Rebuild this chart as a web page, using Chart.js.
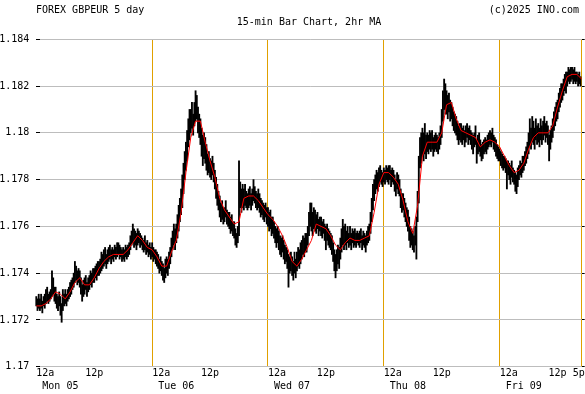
<!DOCTYPE html>
<html>
<head>
<meta charset="utf-8">
<script src="https://cdn.jsdelivr.net/npm/chart.js@4.4.1/dist/chart.umd.min.js"></script>
<style>
  html, body { margin: 0; padding: 0; background: #fff; }
  canvas { display: block; }
</style>
</head>
<body>
<canvas id="chart" width="585" height="394"></canvas>
<script>
// 15-min bars, Mon 00:00 .. Fri 16:45 (4 bars per hour)
const monLow = [
  1.1726,1.1724,1.1725,1.1724, 1.1725,1.1723,1.1726,1.1725,
  1.1727,1.1728,1.1727,1.1728, 1.1729,1.1730,1.1731,1.1728,
  1.1727,1.1725,1.1724,1.1726, 1.1722,1.1719,1.1724,1.1726,
  1.1727,1.1726,1.1728,1.1729, 1.1730,1.1731,1.1733,1.1734,
  1.1736,1.1737,1.1735,1.1736, 1.1734,1.1731,1.1728,1.1730,
  1.1731,1.1733,1.1730,1.1732, 1.1733,1.1735,1.1734,1.1736,
  1.1736,1.1738,1.1737,1.1739, 1.1739,1.1740,1.1741,1.1742,
  1.1743,1.1744,1.1742,1.1744, 1.1745,1.1746,1.1744,1.1746,
  1.1745,1.1747,1.1746,1.1747, 1.1748,1.1746,1.1747,1.1745,
  1.1746,1.1745,1.1747,1.1746, 1.1747,1.1748,1.1750,1.1752,
  1.1753,1.1751,1.1752,1.1750, 1.1752,1.1753,1.1751,1.1752,
  1.1750,1.1749,1.1750,1.1748, 1.1749,1.1747,1.1748,1.1746
];
const monHigh = [
  1.1730,1.1729,1.1731,1.1729, 1.1731,1.1728,1.1730,1.1731,
  1.1733,1.1734,1.1731,1.1732, 1.1733,1.1741,1.1738,1.1734,
  1.1734,1.1731,1.1730,1.1732, 1.1730,1.1727,1.1733,1.1731,
  1.1733,1.1731,1.1733,1.1734, 1.1736,1.1737,1.1738,1.1740,
  1.1745,1.1743,1.1741,1.1742, 1.1741,1.1738,1.1735,1.1737,
  1.1738,1.1739,1.1736,1.1738, 1.1739,1.1741,1.1740,1.1742,
  1.1742,1.1743,1.1744,1.1745, 1.1745,1.1746,1.1749,1.1748,
  1.1750,1.1751,1.1748,1.1750, 1.1751,1.1752,1.1750,1.1751,
  1.1750,1.1752,1.1751,1.1753, 1.1753,1.1752,1.1751,1.1750,
  1.1751,1.1750,1.1752,1.1751, 1.1752,1.1753,1.1756,1.1758,
  1.1761,1.1759,1.1758,1.1757, 1.1759,1.1758,1.1757,1.1756,
  1.1755,1.1754,1.1756,1.1753, 1.1754,1.1752,1.1753,1.1751
];
const tueLow = [
  1.1747,1.1745,1.1746,1.1744, 1.1743,1.1742,1.1740,1.1741,
  1.1739,1.1737,1.1736,1.1738, 1.1740,1.1739,1.1742,1.1744,
  1.1747,1.1750,1.1752,1.1750, 1.1753,1.1755,1.1758,1.1762,
  1.1765,1.1768,1.1774,1.1780, 1.1784,1.1788,1.1794,1.1797,
  1.1800,1.1802,1.1799,1.1803, 1.1805,1.1806,1.1800,1.1798,
  1.1795,1.1790,1.1786,1.1789, 1.1787,1.1784,1.1782,1.1783,
  1.1781,1.1780,1.1782,1.1779, 1.1776,1.1772,1.1769,1.1767,
  1.1764,1.1762,1.1763,1.1761, 1.1762,1.1764,1.1761,1.1760,
  1.1759,1.1757,1.1758,1.1756, 1.1755,1.1752,1.1751,1.1753,
  1.1756,1.1768,1.1766,1.1768, 1.1767,1.1769,1.1768,1.1767,
  1.1768,1.1769,1.1767,1.1769, 1.1771,1.1770,1.1768,1.1767,
  1.1768,1.1766,1.1764,1.1765, 1.1763,1.1762,1.1764,1.1761
];
const tueHigh = [
  1.1753,1.1751,1.1750,1.1750, 1.1749,1.1748,1.1746,1.1747,
  1.1745,1.1744,1.1742,1.1746, 1.1747,1.1746,1.1749,1.1751,
  1.1755,1.1758,1.1761,1.1759, 1.1761,1.1765,1.1769,1.1772,
  1.1776,1.1782,1.1787,1.1792, 1.1796,1.1801,1.1806,1.1810,
  1.1810,1.1813,1.1808,1.1813, 1.1818,1.1816,1.1811,1.1808,
  1.1806,1.1802,1.1799,1.1800, 1.1798,1.1795,1.1791,1.1792,
  1.1789,1.1788,1.1790,1.1787, 1.1784,1.1781,1.1778,1.1775,
  1.1773,1.1770,1.1771,1.1768, 1.1768,1.1771,1.1767,1.1766,
  1.1766,1.1764,1.1765,1.1762, 1.1762,1.1759,1.1757,1.1760,
  1.1788,1.1779,1.1776,1.1778, 1.1776,1.1778,1.1775,1.1774,
  1.1776,1.1777,1.1774,1.1776, 1.1780,1.1777,1.1775,1.1774,
  1.1776,1.1774,1.1772,1.1771, 1.1770,1.1769,1.1770,1.1768
];
const wedLow = [
  1.1760,1.1758,1.1759,1.1756, 1.1757,1.1755,1.1753,1.1751,
  1.1753,1.1750,1.1748,1.1747, 1.1749,1.1746,1.1744,1.1745,
  1.1742,1.1734,1.1740,1.1741, 1.1739,1.1737,1.1740,1.1738,
  1.1741,1.1743,1.1742,1.1744, 1.1746,1.1748,1.1747,1.1749,
  1.1749,1.1752,1.1756,1.1760, 1.1758,1.1756,1.1759,1.1758,
  1.1757,1.1759,1.1756,1.1758, 1.1756,1.1755,1.1757,1.1754,
  1.1750,1.1754,1.1752,1.1751, 1.1750,1.1748,1.1745,1.1741,
  1.1738,1.1741,1.1744,1.1742, 1.1746,1.1749,1.1752,1.1750,
  1.1752,1.1750,1.1753,1.1751, 1.1752,1.1750,1.1753,1.1751,
  1.1752,1.1751,1.1753,1.1752, 1.1751,1.1753,1.1750,1.1752,
  1.1751,1.1749,1.1752,1.1753, 1.1754,1.1757,1.1762,1.1767,
  1.1771,1.1774,1.1776,1.1775, 1.1777,1.1779,1.1778,1.1777
];
const wedHigh = [
  1.1768,1.1766,1.1767,1.1764, 1.1764,1.1762,1.1760,1.1759,
  1.1760,1.1758,1.1756,1.1755, 1.1756,1.1754,1.1752,1.1751,
  1.1750,1.1748,1.1747,1.1749, 1.1747,1.1745,1.1749,1.1746,
  1.1749,1.1751,1.1750,1.1753, 1.1754,1.1756,1.1755,1.1757,
  1.1757,1.1760,1.1766,1.1770, 1.1770,1.1766,1.1768,1.1767,
  1.1765,1.1766,1.1763,1.1764, 1.1764,1.1762,1.1763,1.1761,
  1.1760,1.1761,1.1759,1.1758, 1.1757,1.1756,1.1753,1.1750,
  1.1748,1.1750,1.1752,1.1751, 1.1755,1.1759,1.1763,1.1760,
  1.1761,1.1758,1.1760,1.1757, 1.1760,1.1757,1.1759,1.1758,
  1.1759,1.1757,1.1758,1.1757, 1.1758,1.1759,1.1756,1.1758,
  1.1757,1.1756,1.1758,1.1760, 1.1761,1.1766,1.1772,1.1778,
  1.1780,1.1782,1.1784,1.1783, 1.1785,1.1786,1.1784,1.1783
];
const thuLow = [
  1.1779,1.1778,1.1780,1.1779, 1.1778,1.1780,1.1777,1.1779,
  1.1778,1.1775,1.1773,1.1776, 1.1774,1.1773,1.1768,1.1766,
  1.1767,1.1764,1.1762,1.1760, 1.1758,1.1754,1.1751,1.1752,
  1.1750,1.1749,1.1752,1.1746, 1.1762,1.1770,1.1785,1.1787,
  1.1790,1.1788,1.1791,1.1789, 1.1792,1.1791,1.1793,1.1792,
  1.1793,1.1790,1.1792,1.1793, 1.1792,1.1791,1.1793,1.1795,
  1.1798,1.1805,1.1810,1.1808, 1.1808,1.1806,1.1809,1.1805,
  1.1806,1.1803,1.1801,1.1800, 1.1799,1.1797,1.1795,1.1797,
  1.1796,1.1795,1.1797,1.1794, 1.1796,1.1798,1.1795,1.1797,
  1.1795,1.1793,1.1791,1.1794, 1.1795,1.1787,1.1791,1.1792,
  1.1790,1.1788,1.1789,1.1791, 1.1792,1.1791,1.1793,1.1794,
  1.1795,1.1794,1.1796,1.1793, 1.1792,1.1790,1.1789,1.1788
];
const thuHigh = [
  1.1785,1.1784,1.1786,1.1785, 1.1786,1.1786,1.1784,1.1785,
  1.1784,1.1782,1.1780,1.1783, 1.1782,1.1780,1.1776,1.1774,
  1.1774,1.1772,1.1770,1.1768, 1.1767,1.1764,1.1760,1.1759,
  1.1758,1.1756,1.1760,1.1764, 1.1775,1.1790,1.1798,1.1800,
  1.1802,1.1800,1.1804,1.1799, 1.1800,1.1799,1.1801,1.1800,
  1.1801,1.1798,1.1799,1.1800, 1.1799,1.1798,1.1800,1.1803,
  1.1810,1.1818,1.1823,1.1821, 1.1818,1.1816,1.1817,1.1814,
  1.1813,1.1811,1.1809,1.1808, 1.1807,1.1805,1.1803,1.1804,
  1.1804,1.1802,1.1803,1.1801, 1.1803,1.1804,1.1802,1.1803,
  1.1801,1.1800,1.1799,1.1800, 1.1803,1.1797,1.1799,1.1800,
  1.1797,1.1795,1.1796,1.1797, 1.1798,1.1797,1.1799,1.1800,
  1.1801,1.1800,1.1802,1.1799, 1.1798,1.1797,1.1795,1.1794
];
const friLow = [
  1.1788,1.1786,1.1785,1.1784, 1.1785,1.1783,1.1776,1.1782,
  1.1780,1.1778,1.1781,1.1779, 1.1778,1.1775,1.1774,1.1777,
  1.1780,1.1782,1.1781,1.1783, 1.1784,1.1786,1.1787,1.1789,
  1.1791,1.1794,1.1793,1.1796, 1.1795,1.1793,1.1797,1.1795,
  1.1796,1.1794,1.1797,1.1795, 1.1797,1.1799,1.1796,1.1798,
  1.1795,1.1788,1.1793,1.1796, 1.1798,1.1801,1.1803,1.1805,
  1.1806,1.1809,1.1811,1.1813, 1.1814,1.1816,1.1818,1.1817,
  1.1820,1.1822,1.1821,1.1822, 1.1823,1.1821,1.1822,1.1821,
  1.1822,1.1820,1.1821,1.1820
];
const friHigh = [
  1.1793,1.1792,1.1791,1.1790, 1.1790,1.1789,1.1788,1.1788,
  1.1787,1.1786,1.1788,1.1785, 1.1784,1.1783,1.1782,1.1785,
  1.1786,1.1788,1.1787,1.1790, 1.1790,1.1792,1.1794,1.1796,
  1.1800,1.1806,1.1802,1.1807, 1.1805,1.1802,1.1806,1.1803,
  1.1804,1.1802,1.1806,1.1803, 1.1805,1.1807,1.1804,1.1805,
  1.1803,1.1799,1.1801,1.1803, 1.1806,1.1809,1.1811,1.1813,
  1.1814,1.1817,1.1819,1.1821, 1.1821,1.1823,1.1825,1.1826,
  1.1826,1.1828,1.1827,1.1828, 1.1828,1.1827,1.1828,1.1826,
  1.1826,1.1825,1.1826,1.1824
];

// 2hr moving average, one value per hour (Mon 00:00 .. Fri 17:00)
const maHourly = [
  1.1726,1.1726,1.1727,1.1729,1.1732,1.1731,1.1729,1.1732,1.1736,1.1738,1.1735,1.1735,
  1.1738,1.1742,1.1745,1.1747,1.1748,1.1748,1.1748,1.1750,1.1753,1.1756,1.1754,1.1751,
  1.1750,1.1747,1.1743,1.1743,1.1749,1.1754,1.1766,1.1783,1.1798,1.1805,1.1805,1.1796,
  1.1788,1.1781,1.1772,1.1767,1.1764,1.1761,1.1762,1.1772,1.1773,1.1773,1.1771,1.1768,
  1.1765,1.1763,1.1760,1.1756,1.1751,1.1745,1.1743,1.1746,1.1750,1.1754,1.1761,1.1760,
  1.1759,1.1756,1.1752,1.1750,1.1753,1.1755,1.1754,1.1754,1.1755,1.1756,1.1766,1.1778,
  1.1783,1.1783,1.1781,1.1778,1.1771,1.1762,1.1757,1.1769,1.1790,1.1796,1.1796,1.1796,
  1.1800,1.1812,1.1813,1.1806,1.1801,1.1800,1.1799,1.1798,1.1794,1.1796,1.1797,1.1796,
  1.1794,1.1790,1.1786,1.1783,1.1784,1.1787,1.1793,1.1798,1.1800,1.1800,1.1800,1.1803,
  1.1811,1.1818,1.1824,1.1825,1.1825,1.1823
];

const dayNames = ['Mon 05', 'Tue 06', 'Wed 07', 'Thu 08', 'Fri 09'];
const tickHours = [0, 12, 24, 36, 48, 60, 72, 84, 96, 108, 113];
const tickText = ['12a', '12p', '12a', '12p', '12a', '12p', '12a', '12p', '12a', '12p', '5p'];
const yTicks = [1.17, 1.172, 1.174, 1.176, 1.178, 1.18, 1.182, 1.184];

const titleLeft = 'FOREX GBPEUR 5 day';
const titleCenter = '15-min Bar Chart, 2hr MA';
const titleRight = '(c)2025 INO.com';

const MONO = '"DejaVu Sans Mono", "Liberation Mono", monospace';
const ORANGE = '#e0a000';

// plot box: hour 0 sits at x=36.3, hour 113 at x=581.7; grid starts at x=40
const PX_PER_HOUR = (581.7 - 36.3) / 113;
const X_START = (40 - 36.3) / PX_PER_HOUR;

const lows = monLow.concat(tueLow, wedLow, thuLow, friLow);
const highs = monHigh.concat(tueHigh, wedHigh, thuHigh, friHigh);
const bars = lows.map((lo, i) => ({ x: i / 4, y: [lo, highs[i]] }));
const ma = maHourly.map((v, h) => ({ x: h, y: v }));

function xLabel(value) {
  const i = tickHours.indexOf(value);
  const t = tickText[i];
  if (t === '12a') {
    // pad so the text starts at the tick like the original
    return ['   12a', '        ' + dayNames[value / 24]];
  }
  if (t === '5p') return '5p ';
  return t;
}

const headerText = {
  id: 'headerText',
  afterDraw(chart) {
    const { ctx } = chart;
    ctx.save();
    ctx.font = '10px ' + MONO;
    ctx.fillStyle = '#000';
    ctx.textBaseline = 'middle';
    ctx.textAlign = 'left';
    ctx.fillText(titleLeft, 36, 10);
    ctx.textAlign = 'right';
    ctx.fillText(titleRight, 579, 10);
    ctx.textAlign = 'center';
    ctx.fillText(titleCenter, 309, 22);
    ctx.restore();
  }
};

const yTickSetup = s => { s.ticks = yTicks.map(v => ({ value: v })); };

new Chart(document.getElementById('chart'), {
  type: 'bar',
  data: {
    datasets: [
      {
        type: 'line',
        label: '2hr MA',
        data: ma,
        borderColor: '#ff0000',
        borderWidth: 1,
        pointRadius: 0,
        tension: 0,
        fill: false,
        clip: false,
        order: 0,
        yAxisID: 'y'
      },
      {
        type: 'bar',
        label: 'GBPEUR',
        data: bars,
        backgroundColor: '#000',
        borderWidth: 0,
        barThickness: 1.2,
        clip: false,
        order: 1,
        yAxisID: 'y'
      }
    ]
  },
  options: {
    responsive: false,
    animation: false,
    devicePixelRatio: 1,
    events: [],
    layout: { padding: { top: 39.3, left: 0, right: 0, bottom: 0 } },
    plugins: {
      legend: { display: false },
      tooltip: { enabled: false },
      title: { display: false }
    },
    scales: {
      x: {
        type: 'linear',
        min: X_START,
        max: 113,
        offset: false,
        afterBuildTicks: s => { s.ticks = tickHours.map(v => ({ value: v })); },
        afterFit: s => { s.height = 27.3; s.paddingLeft = 0; s.paddingRight = 0; },
        ticks: {
          autoSkip: false,
          maxRotation: 0,
          minRotation: 0,
          padding: 0,
          color: '#000',
          font: { family: MONO, size: 10, lineHeight: 1.3 },
          callback: xLabel
        },
        grid: {
          offset: false,
          drawTicks: false,
          lineWidth: 1,
          color: c => (c.tick && (c.tick.value === 113 || (c.tick.value > 0 && c.tick.value % 24 === 0))) ? ORANGE : 'rgba(0,0,0,0)'
        },
        border: { display: false }
      },
      y: {
        position: 'left',
        min: 1.17,
        max: 1.184,
        afterBuildTicks: yTickSetup,
        afterFit: s => { s.width = 40; },
        ticks: {
          color: '#000',
          padding: 6.7,
          font: { family: MONO, size: 10 },
          callback: v => String(+v.toFixed(3))
        },
        grid: { color: '#bdbdbd', tickColor: '#000', tickLength: 4, lineWidth: 1 },
        border: { display: false }
      },
      y2: {
        position: 'right',
        min: 1.17,
        max: 1.184,
        afterBuildTicks: yTickSetup,
        afterFit: s => { s.width = 3.3; },
        ticks: { display: false },
        grid: { drawOnChartArea: false, tickColor: '#000', tickLength: 3 },
        border: { display: false }
      }
    }
  },
  plugins: [headerText]
});
</script>
</body>
</html>
